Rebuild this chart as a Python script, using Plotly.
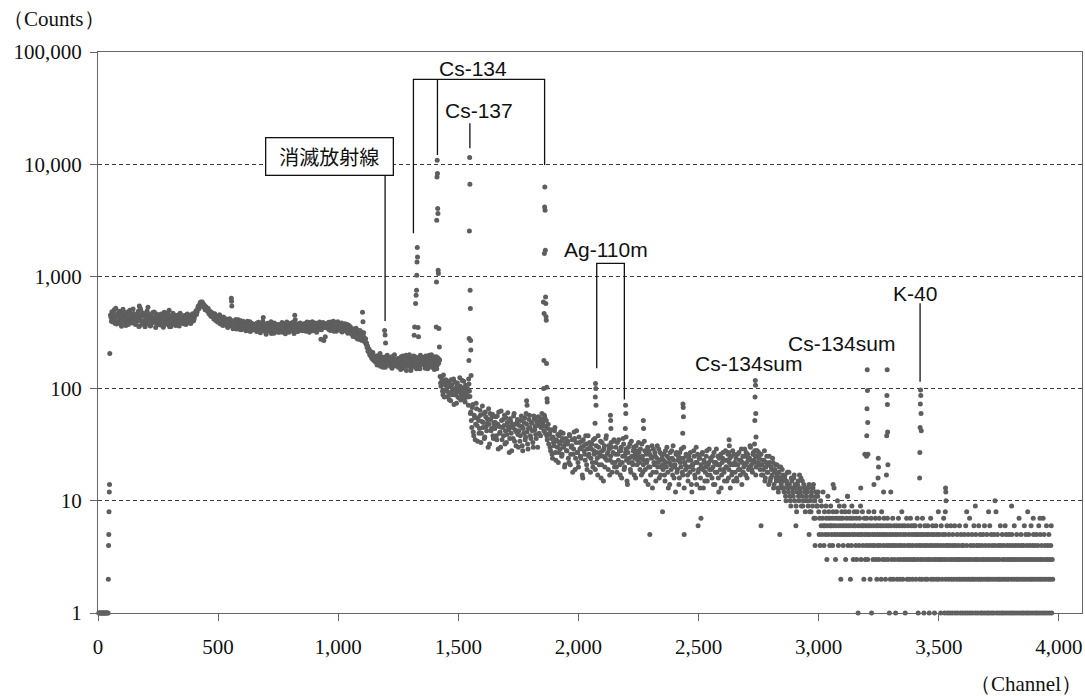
import math
import plotly.graph_objects as go

# ---------------------------------------------------------------
# Gamma-ray spectrum: counts per channel
# ---------------------------------------------------------------

# threshold region (channels 3-49)
threshold_channels = [3, 6, 9, 12, 15, 18, 21, 24, 27, 30, 33, 36, 39, 42,
                      43, 44, 45, 46, 47, 48, 49]
threshold_counts = [1, 1, 1, 1, 1, 1, 1, 1, 1, 1, 1, 1, 1, 1,
                    2, 4, 5, 8, 12, 14, 205]

# continuum, channels 52-1448, every 4th channel
continuum_low_first = 52
continuum_low_counts = [
    452, 398, 470, 415, 505, 380, 440, 462, 395, 488, 420, 372, 455, 510, 402, 436, 365, 478, 425, 392, 500, 447, 384, 430, 468,
    410, 372, 455, 398, 488, 360, 430, 445, 385, 470, 402, 355, 438, 492, 376, 420, 452, 368, 405, 476, 390, 428, 350, 462, 415,
    395, 440, 368, 455, 410, 352, 478, 386, 425, 460, 372, 405, 445, 358, 418, 470, 392, 432, 365, 448, 402, 380, 462, 415, 388,
    412, 378, 448, 395, 425, 462, 386, 430, 405, 452, 398, 440, 418, 462, 495, 478, 530, 515, 568, 592, 575, 548, 565, 522, 540,
    515, 490, 502, 472, 455, 480, 440, 462, 425, 448, 410, 432, 395, 442, 378, 418, 400, 365, 428, 390, 372, 412, 350, 395, 420,
    385, 362, 402, 348, 378, 395, 340, 370, 410, 356, 382, 335, 365, 398, 350, 372, 328, 388, 355, 342, 395, 360, 332, 378, 350,
    338, 372, 322, 355, 390, 340, 315, 368, 348, 382, 330, 358, 305, 375, 342, 360, 325, 395, 338, 350, 312, 366, 345, 328, 372,
    342, 318, 365, 352, 330, 380, 345, 308, 362, 338, 372, 325, 350, 385, 332, 358, 310, 368, 342, 355, 322, 378, 348, 335, 362,
    355, 330, 372, 348, 385, 340, 362, 318, 378, 352, 395, 338, 365, 345, 382, 328, 370, 355, 340, 275, 362, 388, 268, 350, 372,
    368, 345, 390, 352, 330, 375, 360, 398, 342, 365, 325, 380, 355, 338, 372, 348, 320, 362, 345, 378, 330, 352, 312, 365, 340,
    328, 305, 342, 298, 318, 290, 335, 302, 275, 312, 288, 320, 268, 295, 282, 260, 248, 232, 215, 225, 198, 205, 185, 210, 178,
    188, 172, 195, 165, 182, 200, 158, 178, 190, 168, 185, 155, 176, 198, 170, 162, 184, 175, 152, 188, 166, 178, 160, 172, 185,
    165, 182, 148, 175, 195, 158, 170, 188, 145, 178, 162, 200, 168, 152, 185, 172, 160, 192, 155, 176, 168, 185, 150, 174, 190,
    172, 188, 160, 195, 168, 150, 182, 176, 158, 200, 165, 185, 148, 178, 192, 162, 175, 182, 128, 105, 118, 88, 112, 96, 120,
]

# continuum, channels 54-1450, every 4th channel
continuum_low_odd_first = 54
continuum_low_odd_counts = [
    430, 485, 392, 458, 412, 520, 376, 446, 470, 405, 438, 360, 492, 418, 452, 388, 465, 410, 372, 482, 428, 455, 398, 512, 440,
    385, 442, 412, 470, 358, 426, 498, 395, 448, 372, 460, 418, 380, 472, 408, 440, 362, 455, 425, 390, 482, 402, 436, 370, 448,
    420, 375, 462, 398, 435, 365, 450, 412, 388, 472, 405, 355, 440, 425, 382, 458, 410, 372, 446, 395, 430, 362, 470, 402, 425,
    392, 438, 405, 372, 455, 418, 395, 442, 380, 428, 465, 402, 440, 478, 458, 505, 545, 532, 585, 560, 590, 538, 552, 505, 528,
    498, 520, 465, 488, 442, 470, 452, 418, 465, 405, 438, 392, 425, 455, 388, 410, 372, 435, 402, 380, 418, 362, 405, 385, 372,
    372, 395, 342, 385, 360, 412, 348, 375, 392, 338, 402, 365, 345, 388, 362, 335, 380, 398, 345, 368, 322, 382, 355, 372, 340,
    360, 342, 385, 328, 348, 372, 355, 332, 398, 340, 365, 318, 352, 382, 335, 368, 345, 310, 372, 358, 385, 330, 355, 368, 318,
    355, 372, 332, 388, 318, 348, 365, 338, 392, 352, 318, 360, 345, 375, 328, 392, 340, 352, 322, 375, 360, 338, 385, 352, 328,
    342, 378, 360, 325, 392, 352, 335, 388, 345, 370, 328, 352, 385, 360, 318, 375, 342, 392, 360, 335, 372, 348, 382, 290, 358,
    352, 378, 335, 362, 392, 348, 370, 325, 385, 355, 368, 395, 340, 362, 330, 385, 352, 372, 338, 360, 325, 372, 348, 335, 355,
    315, 335, 292, 325, 308, 345, 280, 318, 298, 330, 272, 305, 290, 315, 262, 278, 255, 240, 222, 208, 215, 192, 200, 182, 195,
    175, 192, 162, 185, 170, 205, 168, 182, 155, 190, 172, 160, 195, 178, 165, 185, 158, 192, 175, 168, 200, 160, 182, 170, 155,
    178, 160, 192, 170, 152, 185, 165, 198, 175, 158, 188, 170, 145, 182, 162, 195, 168, 178, 150, 188, 172, 160, 198, 165, 180,
    165, 182, 152, 190, 175, 160, 198, 168, 185, 155, 178, 192, 162, 172, 150, 188, 168, 180, 112, 125, 95, 132, 84, 108, 118,
]

# continuum, channels 1452-2996, every 4th channel
continuum_high_first = 1452
continuum_high_counts = [
    102, 85, 115, 92, 78, 108, 96, 122, 88, 100, 74, 112, 94, 82, 105, 90, 118, 86, 98, 76, 104, 92, 84, 110, 85,
    62, 45, 72, 38, 55, 48, 66, 34, 52, 44, 58, 40, 70, 50, 36, 62, 46, 54, 30, 48, 60, 42, 56, 38, 50,
    44, 56, 35, 48, 62, 40, 30, 52, 45, 38, 58, 42, 33, 50, 46, 27, 54, 40, 48, 36, 60, 43, 31, 50, 39,
    42, 34, 52, 46, 28, 40, 55, 37, 48, 32, 44, 58, 38, 50, 42, 30, 54, 46, 36, 48, 56, 40, 52, 45, 60,
    50, 42, 55, 46, 38, 44, 32, 40, 28, 36, 24, 33, 42, 27, 35, 30, 22, 38, 29, 34, 26, 40, 31, 21, 36,
    28, 34, 22, 38, 26, 31, 18, 29, 36, 24, 42, 27, 20, 33, 25, 30, 17, 35, 28, 23, 32, 19, 38, 26, 30,
    24, 32, 20, 28, 36, 22, 27, 17, 30, 25, 34, 21, 28, 15, 31, 24, 38, 26, 19, 29, 23, 33, 18, 27, 35,
    22, 30, 18, 26, 35, 21, 28, 16, 25, 32, 20, 27, 23, 14, 30, 24, 19, 34, 22, 28, 17, 26, 31, 21, 25,
    27, 19, 24, 32, 18, 23, 28, 15, 22, 30, 20, 26, 17, 24, 13, 29, 21, 25, 18, 31, 22, 16, 27, 20, 24,
    19, 26, 15, 22, 30, 18, 24, 14, 21, 28, 17, 23, 20, 12, 27, 19, 25, 16, 22, 29, 18, 24, 13, 21, 26,
    20, 15, 25, 18, 23, 12, 21, 28, 17, 22, 14, 26, 19, 24, 16, 20, 27, 13, 22, 18, 25, 15, 21, 29, 17,
    23, 16, 20, 27, 14, 22, 18, 25, 12, 21, 26, 17, 24, 19, 15, 28, 20, 23, 16, 22, 13, 25, 18, 21, 26,
    18, 24, 15, 21, 27, 19, 23, 14, 25, 20, 29, 17, 22, 26, 19, 24, 30, 21, 18, 27, 23, 25, 20, 28, 22,
    24, 19, 26, 21, 17, 23, 15, 20, 25, 18, 14, 22, 16, 19, 24, 13, 18, 21, 15, 17, 12, 20, 16, 14, 19,
    15, 12, 17, 10, 14, 13, 18, 11, 9, 15, 12, 16, 10, 13, 8, 14, 11, 17, 12, 9, 15, 10, 13, 8, 11,
    12, 9, 14, 10, 8, 11, 13, 7, 10, 12, 9, 11,
]

# continuum, channels 1454-2998, every 4th channel
continuum_high_odd_first = 1454
continuum_high_odd_counts = [
    94, 110, 80, 104, 120, 88, 99, 72, 114, 91, 106, 84, 97, 125, 79, 101, 93, 116, 82, 107, 89, 100, 71, 95, 60,
    52, 68, 41, 58, 35, 74, 47, 55, 40, 64, 33, 51, 45, 60, 37, 56, 42, 49, 66, 32, 53, 44, 59, 36, 47,
    50, 38, 57, 29, 46, 41, 63, 35, 53, 47, 32, 55, 39, 61, 43, 36, 51, 28, 45, 57, 34, 48, 41, 53, 30,
    47, 38, 57, 31, 44, 50, 35, 60, 41, 29, 53, 45, 36, 49, 33, 57, 43, 39, 51, 30, 47, 55, 38, 49, 53,
    47, 58, 40, 52, 35, 48, 39, 30, 43, 26, 37, 31, 45, 23, 34, 39, 27, 32, 41, 25, 36, 30, 20, 33, 28,
    32, 24, 39, 21, 30, 35, 26, 41, 19, 33, 27, 22, 37, 29, 24, 34, 16, 31, 26, 38, 21, 29, 25, 33, 18,
    29, 22, 35, 26, 19, 31, 24, 38, 21, 27, 16, 33, 25, 29, 20, 36, 23, 27, 31, 17, 25, 30, 22, 34, 20,
    26, 20, 33, 23, 28, 17, 30, 22, 36, 19, 25, 29, 15, 27, 22, 32, 18, 25, 21, 30, 24, 16, 28, 23, 33,
    22, 29, 17, 25, 21, 34, 19, 26, 23, 14, 28, 20, 25, 31, 18, 22, 27, 15, 24, 20, 29, 23, 17, 26, 21,
    23, 17, 28, 20, 25, 13, 22, 27, 19, 24, 31, 16, 21, 26, 18, 23, 14, 27, 20, 24, 17, 30, 22, 19, 25,
    17, 23, 20, 27, 14, 21, 19, 25, 16, 30, 22, 18, 24, 13, 21, 26, 19, 23, 15, 20, 28, 17, 22, 19, 24,
    19, 25, 14, 22, 18, 29, 21, 16, 24, 19, 13, 22, 27, 18, 23, 20, 15, 26, 19, 24, 21, 17, 28, 15, 22,
    21, 16, 26, 19, 23, 17, 29, 22, 18, 25, 21, 27, 16, 24, 20, 31, 23, 19, 26, 22, 28, 17, 25, 21, 27,
    21, 26, 17, 23, 19, 28, 16, 22, 18, 21, 25, 15, 20, 17, 22, 14, 19, 16, 21, 13, 18, 15, 20, 13, 17,
    13, 16, 11, 15, 18, 12, 14, 10, 16, 13, 11, 17, 14, 9, 12, 15, 10, 13, 16, 11, 9, 14, 12, 10, 13,
    10, 13, 8, 11, 12, 9, 14, 10, 7, 11, 9, 12,
]

# low-count tail, channels 3000-3974, every 2nd channel
tail_first = 3000
tail_counts = [
    8, 5, 7, 4, 10, 6, 9, 5, 7, 12, 6, 4, 8, 6, 5, 9, 7, 3, 6, 11, 5, 8, 7, 4, 6,
    9, 6, 5, 7, 4, 8, 6, 13, 5, 7, 3, 6, 8, 5, 10, 7, 4, 6, 9, 5, 7, 2, 6, 8, 5,
    7, 4, 6, 9, 5, 8, 3, 6, 7, 5, 11, 4, 6, 8, 5, 7, 2, 6, 4, 9, 5, 7, 3, 6, 8,
    5, 6, 4, 7, 3, 8, 5, 1, 6, 4, 7, 5, 9, 3, 6, 5, 8, 4, 6, 2, 7, 5, 3, 6, 4,
    7, 5, 3, 6, 8, 4, 5, 2, 6, 7, 1, 4, 5, 3, 6, 8, 4, 5, 7, 3, 6, 2, 5, 4, 6,
    3, 7, 5, 4, 6, 2, 8, 5, 3, 6, 4, 7, 5, 3, 2, 6, 4, 5, 7, 3, 6, 4, 1, 5, 2,
    6, 4, 3, 5, 7, 2, 4, 6, 3, 5, 1, 4, 6, 2, 5, 3, 7, 4, 6, 2, 5, 3, 4, 8, 6,
    2, 5, 3, 4, 6, 1, 5, 3, 7, 2, 4, 6, 3, 5, 2, 4, 7, 3, 6, 5, 2, 4, 3, 6, 5,
    3, 6, 2, 4, 5, 7, 3, 1, 5, 4, 2, 6, 3, 5, 4, 2, 7, 3, 5, 1, 4, 6, 2, 3, 5,
    4, 2, 6, 3, 5, 1, 4, 3, 7, 2, 5, 4, 6, 3, 2, 5, 1, 4, 3, 6, 2, 5, 4, 3, 8,
    2, 5, 3, 4, 1, 6, 3, 2, 5, 4, 7, 3, 1, 5, 2, 4, 3, 6, 1, 4, 2, 5, 3, 1, 4,
    6, 2, 3, 1, 5, 4, 2, 3, 6, 1, 4, 3, 2, 5, 1, 3, 4, 2, 6, 3, 1, 5, 2, 4, 3,
    1, 4, 2, 5, 3, 1, 6, 2, 4, 3, 1, 5, 2, 3, 7, 1, 4, 2, 3, 5, 1, 2, 4, 6, 3,
    2, 1, 5, 3, 4, 2, 1, 3, 6, 4, 2, 5, 1, 3, 2, 4, 1, 5, 3, 2, 6, 1, 4, 3, 2,
    5, 1, 3, 2, 4, 1, 6, 3, 2, 5, 1, 4, 3, 2, 1, 5, 3, 4, 2, 8, 1, 3, 5, 2, 4,
    1, 3, 2, 6, 4, 1, 2, 5, 3, 1, 4, 2, 3, 6, 1, 5, 2, 4, 3, 1, 2, 5, 3, 4, 1,
    3, 2, 5, 1, 4, 3, 2, 6, 1, 3, 4, 2, 5, 1, 3, 2, 4, 7, 1, 3, 2, 5, 4, 1, 3,
    2, 4, 1, 6, 3, 2, 5, 1, 4, 3, 2, 1, 5, 3, 4, 2, 1, 6, 3, 2, 4, 1, 5, 3, 2,
    4, 1, 3, 5, 2, 1, 4, 3, 6, 2, 1, 5, 3, 2, 4, 1, 3, 7, 2, 5, 1, 4, 3, 2, 6,
    1, 3, 4, 2, 5, 1, 3, 2, 4, 6, 1, 3, 2,
]

# peak channels (full-energy and sum peaks, small lines)
peak_channels = [
    172, 176, 208, 296, 555, 556, 557, 688, 819, 821, 1101, 1103,
    1193, 1195, 1197,
    1316, 1318, 1322, 1324, 1326, 1327, 1328, 1329, 1330, 1332, 1334,
    1408, 1409, 1410, 1411, 1412, 1413, 1414, 1415, 1416, 1417, 1419, 1421,
    1543, 1544, 1545, 1546, 1547, 1548, 1549, 1550, 1551, 1552, 1553,
    1784, 1786,
    1854, 1855, 1856, 1857, 1858, 1859, 1860, 1861, 1862, 1863, 1864, 1865, 1866, 1867, 1868, 1869, 1870,
    2069, 2070, 2071, 2072, 2073,
    2133, 2134, 2135,
    2195, 2196, 2197, 2198,
    2270, 2271,
    2434, 2435, 2436, 2437,
    2626, 2627, 2628,
    2733, 2734, 2735, 2736, 2737, 2738, 2739, 2740,
    3192,
    3199, 3200, 3201, 3202, 3203, 3204, 3205,
    3247, 3248, 3249,
    3282, 3283, 3284, 3285, 3286, 3287, 3288,
    3420, 3421, 3422, 3423, 3424, 3425, 3426, 3427,
    3527, 3528, 3529, 3530,
]
peak_counts = [
    545, 520, 530, 500, 640, 600, 545, 430, 450, 410, 480, 395,
    330, 300, 255,
    299, 354, 573, 679, 752, 1023, 1343, 1806, 1490, 350, 290,
    354, 891, 3160, 7690, 10840, 8250, 4020, 3630, 1133, 1060, 344, 235,
    122, 178, 279, 2540, 11460, 6620, 752, 517, 268, 221, 131,
    78, 71,
    590, 100, 178, 467, 1597, 4160, 6270, 3880, 1710, 655, 573, 436, 406, 167, 103, 81, 76,
    49, 84, 111, 100, 71,
    58, 52, 44,
    44, 71, 60, 37,
    52, 44,
    40, 73, 68, 56,
    27, 35, 31,
    32, 52, 84, 118, 107, 60, 37, 28,
    26,
    25, 38, 66, 147, 96, 50, 26,
    16, 24, 20,
    17, 38, 87, 147, 72, 41, 21,
    16, 27, 45, 73, 97, 87, 60, 42,
    8, 13, 12, 10,
]

# isolated events away from the continuum
extra_channels = [2297, 2350, 2440, 2498, 2510, 2760, 2838, 2905, 2960, 2985, 3060, 3120,
                  3175, 3230, 3270, 3300, 3616, 3652, 3707, 3734, 3803, 3870, 3893, 3921]
extra_counts = [5, 8, 5, 6, 7, 6, 5, 6, 5, 4, 14, 11,
                13, 14, 12, 12, 8, 9, 8, 10, 9, 8, 7, 7]

# axis ticks
x_tick_values = [0, 500, 1000, 1500, 2000, 2500, 3000, 3500, 4000]
x_tick_labels = ["0", "500", "1,000", "1,500", "2,000", "2,500", "3,000", "3,500", "4,000"]
y_tick_values = [1, 10, 100, 1000, 10000, 100000]
y_tick_labels = ["1", "10", "100", "1,000", "10,000", "100,000"]


def spaced(first, step, counts):
    return list(range(first, first + step * len(counts), step))


channels = (threshold_channels
            + spaced(continuum_low_first, 4, continuum_low_counts)
            + spaced(continuum_low_odd_first, 4, continuum_low_odd_counts)
            + spaced(continuum_high_first, 4, continuum_high_counts)
            + spaced(continuum_high_odd_first, 4, continuum_high_odd_counts)
            + spaced(tail_first, 2, tail_counts)
            + extra_channels
            + peak_channels)
counts = (threshold_counts + continuum_low_counts + continuum_low_odd_counts
          + continuum_high_counts + continuum_high_odd_counts + tail_counts
          + extra_counts + peak_counts)

DOT = "#5e5e5e"
INK = "#111111"
SERIF = "Liberation Serif"
SANS = "Liberation Sans"

fig = go.Figure()
fig.add_trace(go.Scatter(
    x=channels, y=counts, mode="markers",
    marker=dict(size=5, color=DOT, line=dict(width=0)),
    cliponaxis=False, hoverinfo="skip",
))

# leader lines for the nuclide labels (channel, counts)
leaders = [
    ([1313, 1313, 1859, 1859], [2420, 57100, 57100, 9840]),   # Cs-134 bracket
    ([1413, 1413], [12080, 57100]),                           # Cs-134 middle
    ([1548, 1548], [13860, 23130]),                           # Cs-137
    ([1195, 1195], [400, 7850]),                              # annihilation
    ([2076, 2076, 2191, 2191], [152, 1309, 1309, 80]),        # Ag-110m bracket
    ([3422, 3422], [115, 575]),                               # K-40
]
for lx, ly in leaders:
    fig.add_trace(go.Scatter(x=lx, y=ly, mode="lines",
                             line=dict(color=INK, width=1.3), hoverinfo="skip"))

# nuclide labels: (text, channel, counts)
labels = [
    ("Cs-134", 1563, 72000),
    ("Cs-137", 1586, 30000),
    ("Ag-110m", 2114, 1720),
    ("Cs-134sum", 2707, 166),
    ("Cs-134sum", 3095, 254),
    ("K-40", 3401, 697),
]
annotations = []
for text, cx, cy in labels:
    annotations.append(dict(
        x=cx, y=math.log10(cy), xref="x", yref="y", text=text, showarrow=False,
        xanchor="center", yanchor="middle",
        font=dict(family=SANS, size=21, color=INK)))

annotations.append(dict(
    x=962, y=math.log10(11600), xref="x", yref="y", text="消滅放射線", showarrow=False,
    xanchor="center", yanchor="middle", width=122, height=32,
    bordercolor=INK, borderwidth=1.3, borderpad=2, bgcolor="white",
    font=dict(family="Noto Sans CJK JP", size=20, color=INK)))

# axis titles (kept inside the page)
annotations.append(dict(
    x=-97 / 984, y=(613 - 19) / 561, xref="paper", yref="paper", text="（Counts）",
    showarrow=False, xanchor="left", yanchor="middle",
    font=dict(family=SERIF, size=21, color=INK)))
annotations.append(dict(
    x=(1084 - 98) / 984, y=(613 - 684) / 561, xref="paper", yref="paper", text="（Channel）",
    showarrow=False, xanchor="right", yanchor="middle",
    font=dict(family=SERIF, size=21, color=INK)))

AXIS = "#666666"
fig.update_layout(
    width=1085, height=696,
    margin=dict(l=98, r=3, t=52, b=83),
    paper_bgcolor="white", plot_bgcolor="white",
    showlegend=False,
    annotations=annotations,
    xaxis=dict(
        range=[0, 4096], tickvals=x_tick_values, ticktext=x_tick_labels,
        ticks="outside", ticklen=7, tickcolor=AXIS, tickwidth=1.2,
        showline=True, linecolor=AXIS, linewidth=1.3, mirror=True,
        showgrid=False, zeroline=False, ticklabelstandoff=8,
        tickfont=dict(family=SERIF, size=21, color=INK),
    ),
    yaxis=dict(
        type="log", range=[0, 5], tickvals=y_tick_values, ticktext=y_tick_labels,
        ticks="outside", ticklen=7, tickcolor=AXIS, tickwidth=1.2,
        showline=True, linecolor=AXIS, linewidth=1.3, mirror=True,
        showgrid=True, gridcolor="#3c3c3c", gridwidth=1, griddash="4px,3px",
        zeroline=False, ticklabelstandoff=4,
        tickfont=dict(family=SERIF, size=21, color=INK),
    ),
)

fig.write_html("out.html")
